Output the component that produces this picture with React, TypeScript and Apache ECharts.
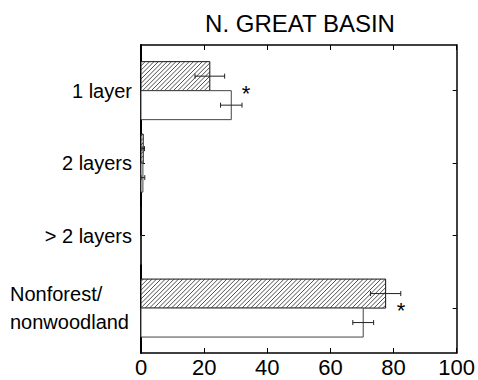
import React, { useEffect, useRef } from "react";
import * as echarts from "echarts";

// Categories, top to bottom
const categories = ["1 layer", "2 layers", "> 2 layers", "Nonforest/\nnonwoodland"];
// Hatched series (upper bar of each pair)
const hatchedValues = [21.8, 0.7, 0, 77.5];
const hatchedErrors = [4.7, 0.4, 0, 4.8];
// Open (white) series (lower bar of each pair)
const openValues = [28.6, 0.6, 0, 70.4];
const openErrors = [3.4, 0.6, 0, 3.3];
// Significance asterisks
const asteriskCategories = ["1 layer", "Nonforest/\nnonwoodland"];
const asteriskX = [33.3, 82.4];
// X axis ticks
const xTicks = [0, 20, 40, 60, 80, 100];
const title = "N. GREAT BASIN";

const FONT = '"Liberation Sans", Arial, Helvetica, sans-serif';
const catPos = (i: number) => categories.length - 1 - i;

function barSeries(values: number[], errs: number[], hatched: boolean) {
  return {
    type: "custom",
    xAxisIndex: 0,
    yAxisIndex: 0,
    encode: { x: 1, y: 0 },
    data: categories.map((c, i) => [catPos(i), values[i], errs[i]]),
    renderItem: (params: any, api: any) => {
      const y = api.value(0);
      const v = api.value(1);
      const e = api.value(2);
      const unit = api.size([0, 1])[1];
      const h = 0.4 * unit;
      const [x0, yc] = api.coord([0, y]);
      const [x1] = api.coord([v, y]);
      const yT = hatched ? yc - h : yc;
      const yB = hatched ? yc : yc + h;
      const children: any[] = [];
      children.push({
        type: "rect",
        shape: { x: x0, y: yT, width: Math.max(0, x1 - x0), height: h },
        style: { fill: "#fff", stroke: hatched ? "#111" : "#444", lineWidth: 1 },
      });
      if (hatched && x1 - x0 > 0.5) {
        const s = 4.4;
        const kMin = Math.ceil((x0 + yT) / s) * s;
        const kMax = x1 + yB;
        for (let k = kMin; k <= kMax; k += s) {
          const sy = Math.min(yB, k - x0);
          const sx = k - sy;
          const ey = Math.max(yT, k - x1);
          const ex = k - ey;
          if (sy - ey > 0.3) {
            children.push({
              type: "line",
              shape: { x1: sx, y1: sy, x2: ex, y2: ey },
              style: { stroke: "#222", lineWidth: 0.8 },
            });
          }
        }
      }
      if (e > 0) {
        const ey = (yT + yB) / 2;
        const [xa] = api.coord([v - e, y]);
        const [xb] = api.coord([v + e, y]);
        const st = { stroke: "#222", lineWidth: 1 };
        children.push({ type: "line", shape: { x1: xa, y1: ey, x2: xb, y2: ey }, style: st });
        children.push({ type: "line", shape: { x1: xa, y1: ey - 2.5, x2: xa, y2: ey + 2.5 }, style: st });
        children.push({ type: "line", shape: { x1: xb, y1: ey - 2.5, x2: xb, y2: ey + 2.5 }, style: st });
      }
      return { type: "group", children };
    },
  };
}

export default function App() {
  const ref = useRef<HTMLDivElement>(null);
  useEffect(() => {
    document.body.style.margin = "0";
    const chart = echarts.init(ref.current!, null, { renderer: "svg" });
    const axisLineStyle = { color: "#000", width: 1.5 };
    const yCustom = categories.map((c, i) => catPos(i));
    chart.setOption({
      animation: false,
      backgroundColor: "#fff",
      grid: { left: 141, right: 14, top: 45, bottom: 27, containLabel: false },
      graphic: [
        {
          type: "text",
          x: 300,
          y: 23,
          style: {
            text: title,
            fontSize: 24,
            fontFamily: FONT,
            fill: "#000",
            textAlign: "center",
            textVerticalAlign: "middle",
          },
        },
      ],
      xAxis: [
        {
          type: "value",
          position: "bottom",
          min: xTicks[0],
          max: xTicks[xTicks.length - 1],
          interval: 20,
          axisLine: { show: true, onZero: false, lineStyle: axisLineStyle },
          axisTick: { show: true, inside: true, length: 5, lineStyle: { color: "#000" } },
          axisLabel: { fontSize: 22, fontFamily: FONT, color: "#000", margin: 3 },
          splitLine: { show: false },
        },
        {
          type: "value",
          position: "top",
          min: xTicks[0],
          max: xTicks[xTicks.length - 1],
          interval: 20,
          axisLine: { show: true, onZero: false, lineStyle: axisLineStyle },
          axisTick: { show: true, inside: true, length: 5, lineStyle: { color: "#000" } },
          axisLabel: { show: false },
          splitLine: { show: false },
        },
      ],
      yAxis: [
        {
          type: "value",
          position: "left",
          min: -0.62,
          max: 3.63,
          axisLine: { show: true, onZero: false, lineStyle: { color: "#000", width: 2 } },
          axisTick: {
            show: true,
            inside: true,
            length: 4,
            customValues: yCustom,
            lineStyle: { color: "#000" },
          },
          axisLabel: {
            customValues: yCustom,
            fontSize: 20,
            fontFamily: FONT,
            color: "#000",
            margin: 9,
            formatter: (v: number) => {
              const i = Math.round(categories.length - 1 - v);
              const name = categories[i] ?? "";
              if (name.includes("\n")) {
                return name
                  .split("\n")
                  .map((l) => `{a|${l}}`)
                  .join("\n");
              }
              return name;
            },
            rich: {
              a: { width: 122, align: "left", fontSize: 20, fontFamily: FONT, color: "#000", lineHeight: 28 },
            },
          },
          splitLine: { show: false },
        },
        {
          type: "value",
          position: "right",
          min: -0.62,
          max: 3.63,
          axisLine: { show: true, onZero: false, lineStyle: axisLineStyle },
          axisTick: {
            show: true,
            inside: true,
            length: 4,
            customValues: yCustom,
            lineStyle: { color: "#000" },
          },
          axisLabel: { show: false },
          splitLine: { show: false },
        },
      ],
      series: [
        barSeries(hatchedValues, hatchedErrors, true),
        barSeries(openValues, openErrors, false),
        {
          type: "custom",
          xAxisIndex: 0,
          yAxisIndex: 0,
          encode: { x: 0, y: 1 },
          data: asteriskCategories.map((c, k) => [asteriskX[k], catPos(categories.indexOf(c)) + 0.03]),
          renderItem: (params: any, api: any) => {
            const [px, py] = api.coord([api.value(0), api.value(1)]);
            return {
              type: "text",
              x: px,
              y: py + 5,
              style: {
                text: "*",
                fontSize: 22,
                fontFamily: FONT,
                fill: "#000",
                textAlign: "center",
                textVerticalAlign: "middle",
              },
            };
          },
        },
      ],
    });
    return () => chart.dispose();
  }, []);
  return (
    <div
      ref={ref}
      style={{ position: "fixed", left: 0, top: 0, width: 478, height: 380, background: "#fff" }}
    />
  );
}
